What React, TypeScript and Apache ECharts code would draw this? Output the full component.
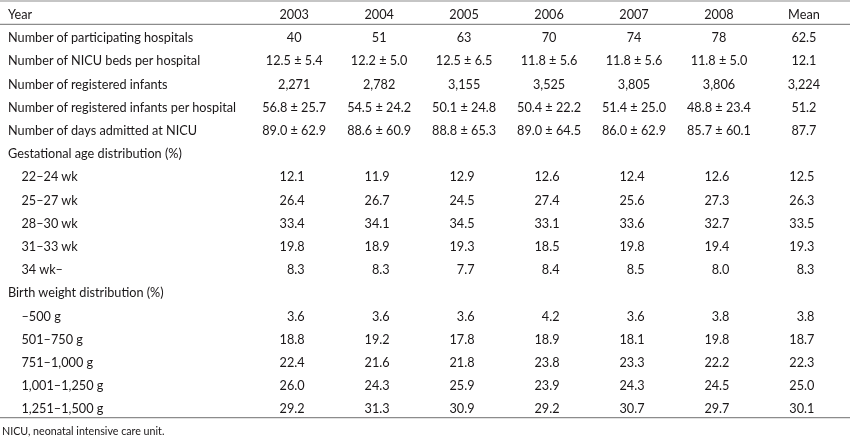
import React, { useEffect, useRef } from "react";
import * as echarts from "echarts";

// ---- data ----
const columns = ["2003", "2004", "2005", "2006", "2007", "2008", "Mean"];
const headerLabel = "Year";
const hospitals = [40, 51, 63, 70, 74, 78, 62.5];
const bedsMean = [12.5, 12.2, 12.5, 11.8, 11.8, 11.8];
const bedsSd = [5.4, 5.0, 6.5, 5.6, 5.6, 5.0];
const bedsOverall = 12.1;
const infants = [2271, 2782, 3155, 3525, 3805, 3806, 3224];
const perHospMean = [56.8, 54.5, 50.1, 50.4, 51.4, 48.8];
const perHospSd = [25.7, 24.2, 24.8, 22.2, 25.0, 23.4];
const perHospOverall = 51.2;
const daysMean = [89.0, 88.6, 88.8, 89.0, 86.0, 85.7];
const daysSd = [62.9, 60.9, 65.3, 64.5, 62.9, 60.1];
const daysOverall = 87.7;

const gaTitle = "Gestational age distribution (%)";
const gaLabels = ["22–24 wk", "25–27 wk", "28–30 wk", "31–33 wk", "34 wk–"];
const ga2224 = [12.1, 11.9, 12.9, 12.6, 12.4, 12.6, 12.5];
const ga2527 = [26.4, 26.7, 24.5, 27.4, 25.6, 27.3, 26.3];
const ga2830 = [33.4, 34.1, 34.5, 33.1, 33.6, 32.7, 33.5];
const ga3133 = [19.8, 18.9, 19.3, 18.5, 19.8, 19.4, 19.3];
const ga34 = [8.3, 8.3, 7.7, 8.4, 8.5, 8.0, 8.3];

const bwTitle = "Birth weight distribution (%)";
const bwLabels = ["–500 g", "501–750 g", "751–1,000 g", "1,001–1,250 g", "1,251–1,500 g"];
const bw500 = [3.6, 3.6, 3.6, 4.2, 3.6, 3.8, 3.8];
const bw750 = [18.8, 19.2, 17.8, 18.9, 18.1, 19.8, 18.7];
const bw1000 = [22.4, 21.6, 21.8, 23.8, 23.3, 22.2, 22.3];
const bw1250 = [26.0, 24.3, 25.9, 23.9, 24.3, 24.5, 25.0];
const bw1500 = [29.2, 31.3, 30.9, 29.2, 30.7, 29.7, 30.1];

const footnote = "NICU, neonatal intensive care unit.";

// ---- formatting ----
const f1 = (v: number) => v.toFixed(1);
const pm = (m: number[], s: number[], o: number) => [
  ...m.map((x, i) => `${f1(x)} ± ${f1(s[i])}`),
  f1(o),
];

type Row = { label: string; indent?: boolean; cells: string[]; align: "center" | "right" };
const rows: Row[] = [
  { label: headerLabel, cells: columns, align: "center" },
  { label: "Number of participating hospitals", cells: hospitals.map((v) => String(v)), align: "center" },
  { label: "Number of NICU beds per hospital", cells: pm(bedsMean, bedsSd, bedsOverall), align: "center" },
  { label: "Number of registered infants", cells: infants.map((v) => v.toLocaleString("en-US")), align: "center" },
  { label: "Number of registered infants per hospital", cells: pm(perHospMean, perHospSd, perHospOverall), align: "center" },
  { label: "Number of days admitted at NICU", cells: pm(daysMean, daysSd, daysOverall), align: "center" },
  { label: gaTitle, cells: [], align: "right" },
  ...[ga2224, ga2527, ga2830, ga3133, ga34].map((arr, i) => ({
    label: gaLabels[i], indent: true, cells: arr.map(f1), align: "right" as const,
  })),
  { label: bwTitle, cells: [], align: "right" },
  ...[bw500, bw750, bw1000, bw1250, bw1500].map((arr, i) => ({
    label: bwLabels[i], indent: true, cells: arr.map(f1), align: "right" as const,
  })),
];

type Cell = { col: number; row: number; text: string; align: "center" | "right" };
const cells: Cell[] = [];
rows.forEach((r, ri) => r.cells.forEach((t, ci) => cells.push({ col: ci, row: ri, text: t, align: r.align })));

const FONT = "Lato, 'Liberation Sans', sans-serif";
const TEXT = "#1a1718";
const RULE = "#8c8c8c";
const FS = 12.7;

export default function App() {
  const ref = useRef<HTMLDivElement>(null);
  useEffect(() => {
    if (!ref.current) return;
    const chart = echarts.init(ref.current, undefined, { renderer: "svg" });
    const gridLeft = 251.7;
    chart.setOption({
      animation: false,
      grid: { left: gridLeft, right: 3.6, top: 2.4, bottom: 18.1, outerBoundsMode: "none", containLabel: false },
      xAxis: {
        type: "category",
        data: columns,
        show: false,
      },
      yAxis: {
        type: "category",
        data: rows.map((r) => r.label),
        inverse: true,
        axisLine: { show: false },
        axisTick: { show: false },
        splitLine: { show: false },
        axisLabel: {
          interval: 0,
          align: "left",
          margin: gridLeft - 8,
          color: TEXT,
          fontFamily: FONT,
          fontSize: FS,
          formatter: (v: string, i: number) => (rows[i] && rows[i].indent ? `{ind|${v}}` : v),
          rich: {
            ind: { padding: [0, 0, 0, 13.5], color: TEXT, fontFamily: FONT, fontSize: FS },
          },
        },
      },
      series: [
        {
          type: "custom",
          coordinateSystem: "cartesian2d",
          data: cells.map((c) => [c.col, c.row]),
          renderItem: (params: any, api: any) => {
            const c = cells[params.dataIndex];
            const p = api.coord([api.value(0), api.value(1)]);
            const right = c.align === "right";
            return {
              type: "text",
              x: p[0] + (right ? 10.5 : 0),
              y: p[1],
              style: {
                text: c.text,
                fill: TEXT,
                fontFamily: FONT,
                fontSize: FS,
                align: right ? "right" : "center",
                verticalAlign: "middle",
              },
            };
          },
        },
      ],
      graphic: [
        { type: "line", shape: { x1: 0, y1: 1, x2: 850, y2: 1 }, style: { stroke: RULE, lineWidth: 1.2 } },
        { type: "line", shape: { x1: 0, y1: 24.3, x2: 850, y2: 24.3 }, style: { stroke: RULE, lineWidth: 1.2 } },
        { type: "line", shape: { x1: 0, y1: 417.7, x2: 850, y2: 417.7 }, style: { stroke: RULE, lineWidth: 1.2 } },
        {
          type: "text",
          x: 2,
          y: 430,
          style: { text: footnote, fill: TEXT, fontFamily: FONT, fontSize: 10.7, verticalAlign: "middle", align: "left" },
        },
      ],
    });
    return () => chart.dispose();
  }, []);
  return <div ref={ref} style={{ position: "fixed", left: 0, top: 0, width: 850, height: 438 }} />;
}
